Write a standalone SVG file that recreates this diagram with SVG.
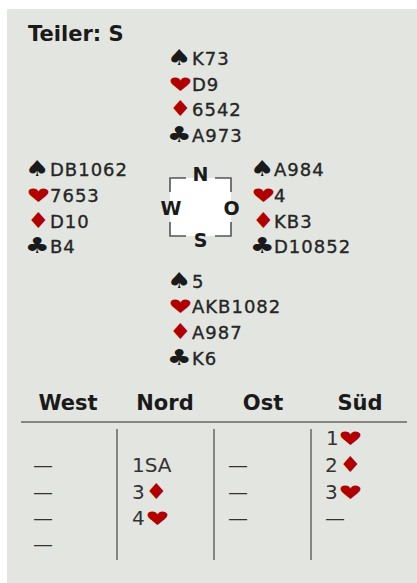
<svg xmlns="http://www.w3.org/2000/svg" width="417" height="583" viewBox="0 0 417 583">
  <style>
    .hand { font-family: "DejaVu Sans", sans-serif; font-size: 18px; letter-spacing: 1px; fill: #262626; stroke: #262626; stroke-width: 0.35; }
    .suit { font-family: "DejaVu Sans", sans-serif; font-size: 22px; }
    .blk { fill: #1a1a1a; }
    .red { fill: #b00000; }
    .bold { font-family: "DejaVu Sans", sans-serif; font-weight: bold; fill: #1a1a1a; }
    .bid { font-family: "DejaVu Sans", sans-serif; font-size: 20px; fill: #333; }
    .rule { stroke: #666; stroke-width: 1.5; fill: none; }
    .bracket { stroke: #555; stroke-width: 1.6; fill: none; }
  </style>
  <defs>
    <!-- suit glyphs, origin on the baseline at the left edge -->
    <text id="sp" class="suit blk" transform="scale(1.25 1)">♠</text>
    <text id="he" class="suit red" transform="scale(1.25 0.85)">♥</text>
    <text id="di" class="suit red" transform="scale(1.15 1)">♦</text>
    <text id="cl" class="suit blk" transform="scale(1.25 1)">♣</text>
  </defs>

  <!-- panel -->
  <rect x="0" y="0" width="417" height="583" fill="#ffffff"/>
  <rect x="7" y="9" width="410" height="574" fill="#e2e5e0"/>

  <text class="bold" x="28" y="41" font-size="21">Teiler: S</text>

  <!-- North -->
  <g id="north">
    <use href="#sp" x="167" y="65"/><text class="hand" x="192" y="65">K73</text>
    <use href="#he" x="168" y="90.5"/><text class="hand" x="192" y="90.5">D9</text>
    <use href="#di" x="169" y="116"/><text class="hand" x="192" y="116">6542</text>
    <use href="#cl" x="167" y="142"/><text class="hand" x="192" y="142">A973</text>
  </g>

  <!-- West -->
  <g id="west">
    <use href="#sp" x="25" y="176"/><text class="hand" x="50" y="176">DB1062</text>
    <use href="#he" x="26" y="202"/><text class="hand" x="50" y="202">7653</text>
    <use href="#di" x="27" y="228"/><text class="hand" x="50" y="228">D10</text>
    <use href="#cl" x="25" y="253"/><text class="hand" x="50" y="253">B4</text>
  </g>

  <!-- East -->
  <g id="east">
    <use href="#sp" x="250" y="176"/><text class="hand" x="274" y="176">A984</text>
    <use href="#he" x="251" y="202"/><text class="hand" x="274" y="202">4</text>
    <use href="#di" x="252" y="228"/><text class="hand" x="274" y="228">KB3</text>
    <use href="#cl" x="250" y="253"/><text class="hand" x="274" y="253">D10852</text>
  </g>

  <!-- South -->
  <g id="south">
    <use href="#sp" x="167" y="288"/><text class="hand" x="192" y="288">5</text>
    <use href="#he" x="168" y="313"/><text class="hand" x="192" y="313">AKB1082</text>
    <use href="#di" x="169" y="339"/><text class="hand" x="192" y="339">A987</text>
    <use href="#cl" x="167" y="365"/><text class="hand" x="192" y="365">K6</text>
  </g>

  <!-- compass -->
  <g id="compass">
    <rect x="170" y="178" width="61" height="58" fill="#ffffff"/>
    <path class="bracket" d="M186 178 H170 V192 M170 222 V236 H186 M215 178 H231 V192 M231 222 V236 H215"/>
    <text class="bold" x="200.5" y="181" font-size="19" text-anchor="middle">N</text>
    <text class="bold" x="171" y="215" font-size="19" text-anchor="middle">W</text>
    <text class="bold" x="231.5" y="215" font-size="19" text-anchor="middle">O</text>
    <text class="bold" x="200.5" y="247" font-size="19" text-anchor="middle">S</text>
  </g>

  <!-- bidding header -->
  <g id="bidding-header">
    <text class="bold" x="68" y="410" font-size="21" text-anchor="middle">West</text>
    <text class="bold" x="165" y="410" font-size="21" text-anchor="middle">Nord</text>
    <text class="bold" x="263" y="410" font-size="21" text-anchor="middle">Ost</text>
    <text class="bold" x="360" y="410" font-size="21" text-anchor="middle">Süd</text>
  </g>

  <g id="bidding-lines">
    <line class="rule" x1="21" y1="422" x2="407" y2="422"/>
    <line class="rule" x1="117" y1="429" x2="117" y2="560"/>
    <line class="rule" x1="214" y1="429" x2="214" y2="560"/>
    <line class="rule" x1="311" y1="429" x2="311" y2="560"/>
  </g>

  <!-- bids -->
  <g id="bids-west">
    <text class="bid" x="33" y="472">—</text>
    <text class="bid" x="33" y="499">—</text>
    <text class="bid" x="33" y="525">—</text>
    <text class="bid" x="33" y="551">—</text>
  </g>
  <g id="bids-nord">
    <text class="bid" x="132" y="472">1SA</text>
    <text class="bid" x="132" y="499">3</text><use href="#di" x="145" y="499"/>
    <text class="bid" x="132" y="525">4</text><use href="#he" x="145" y="525"/>
  </g>
  <g id="bids-ost">
    <text class="bid" x="228" y="472">—</text>
    <text class="bid" x="228" y="499">—</text>
    <text class="bid" x="228" y="525">—</text>
  </g>
  <g id="bids-sued">
    <text class="bid" x="326" y="445">1</text><use href="#he" x="338" y="445"/>
    <text class="bid" x="325" y="472">2</text><use href="#di" x="339" y="472"/>
    <text class="bid" x="325" y="499">3</text><use href="#he" x="338" y="499"/>
    <text class="bid" x="325" y="525">—</text>
  </g>
</svg>
